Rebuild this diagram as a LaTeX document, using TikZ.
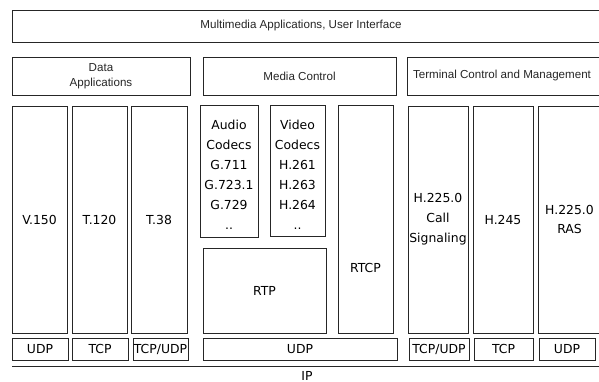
\documentclass[tikz,border=0pt]{standalone}
\usepackage{fontspec}
\setmainfont{Liberation Sans}
\newfontfamily\colfont{DejaVu Sans}
\begin{document}
\begin{tikzpicture}[x=1pt,y=-1pt,
  box/.style={draw=black!85, line width=0.7pt, rectangle, inner sep=0pt, anchor=center},
  head/.style={font=\fontsize{11.6}{15.5}\selectfont, text=black!85, align=center, inner sep=0pt},
  proto/.style={font=\colfont\fontsize{12.4}{19.9}\selectfont, align=center, inner sep=0pt},
  iplink/.style={draw=black!85, line width=0.7pt}]
\useasboundingbox (0,0) rectangle (599,382);
\clip (0,0) rectangle (599,382);

% application layer
\node[box, minimum width=598, minimum height=32] (apps) at (311,26) {};
\node[head] (appstext) at (301,26) {Multimedia Applications, User Interface};

% functional groups
\node[box, minimum width=178, minimum height=38, head] (data) at (101,76) {Data\\Applications};
\node[box, minimum width=193, minimum height=38, head] (media) at (299.5,76) {Media Control};
\node[box, minimum width=203, minimum height=38] (term) at (508.5,76) {};
\node[head] (termtext) at (502,76) {Terminal Control and Management};

% data protocols
\node[box, minimum width=55, minimum height=227, proto] (v150) at (39.5,219.5) {V.150};
\node[box, minimum width=55, minimum height=227, proto] (t120) at (99.5,219.5) {T.120};
\node[box, minimum width=56, minimum height=227, proto] (t38) at (159,219.5) {T.38};

% media
\node[box, minimum width=58, minimum height=132] (audio) at (229,171) {};
\node[proto] (audiotext) at (229,175) {Audio\\Codecs\\G.711\\G.723.1\\G.729\\..};
\node[box, minimum width=55, minimum height=131] (video) at (297.5,170.5) {};
\node[proto] (videotext) at (297.5,175) {Video\\Codecs\\H.261\\H.263\\H.264\\..};
\node[box, minimum width=123, minimum height=85, proto] (rtp) at (264.5,290.5) {RTP};
\node[box, minimum width=55, minimum height=228] (rtcp) at (365.5,219) {};
\node[proto] (rtcptext) at (365.5,268) {RTCP};

% terminal control
\node[box, minimum width=60, minimum height=227, proto] (callsig) at (438,219.5) {H.225.0\\Call\\Signaling};
\node[box, minimum width=60, minimum height=227, proto] (h245) at (503,219.5) {H.245};
\node[box, minimum width=63, minimum height=227, proto] (ras) at (569.5,219.5) {H.225.0\\RAS};

% transport layer
\node[box, minimum width=56, minimum height=22, proto] (udpa) at (40,349) {UDP};
\node[box, minimum width=56, minimum height=22, proto] (tcpa) at (100,349) {TCP};
\node[box, minimum width=55, minimum height=22, proto] (tcpudpa) at (160.5,349) {TCP/UDP};
\node[box, minimum width=194, minimum height=22, proto] (udpb) at (300,349) {UDP};
\node[box, minimum width=60, minimum height=22, proto] (tcpudpb) at (439,349) {TCP/UDP};
\node[box, minimum width=59, minimum height=22, proto] (tcpb) at (503.5,349) {TCP};
\node[box, minimum width=56, minimum height=22, proto] (udpc) at (567,349) {UDP};

% network layer
\coordinate (ipleft) at (12,366);
\coordinate (ipright) at (610,366);
\draw[iplink] (ipleft) -- (ipright);
\node[proto] (ip) at (307,375.5) {IP};
\end{tikzpicture}
\end{document}
